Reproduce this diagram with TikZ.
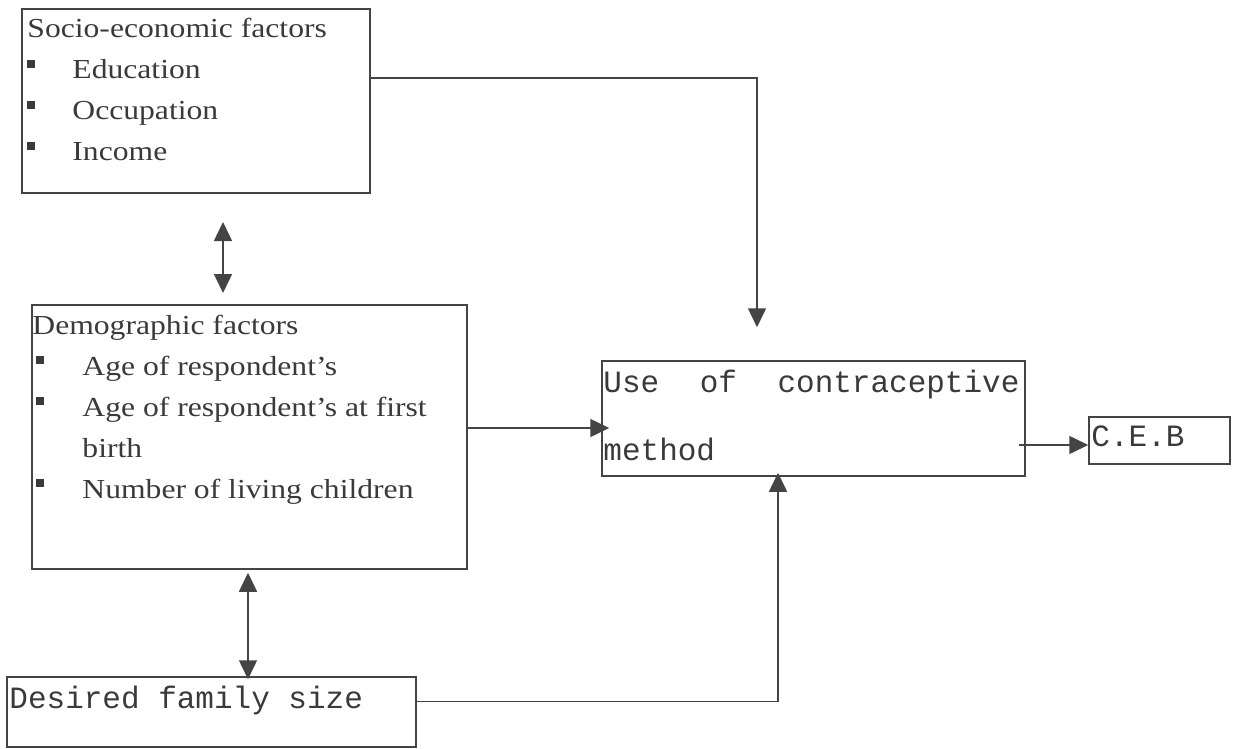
\documentclass[tikz,border=0pt]{standalone}
\usepackage{fontspec}
\setmainfont{Liberation Serif}[FakeStretch=1.15]
\setmonofont{Liberation Mono}
\usetikzlibrary{arrows.meta,positioning}

\definecolor{inkgray}{HTML}{3A3A3A}
\definecolor{linegray}{HTML}{444444}

% square bullet: shift, then width of the bullet column
\newcommand{\sqbullet}[2]{\hspace*{#1}\makebox[#2][l]{\rule[11pt]{8pt}{8pt}}}

\begin{document}
\begin{tikzpicture}[
    x=1pt, y=-1pt,
    >={Triangle[length=19pt,width=18pt]},
    frame/.style={
        draw=linegray,
        line width=1.5pt,
        inner sep=0pt
    },
    textline/.style={
        inner sep=0pt,
        text=inkgray,
        align=left,
        font=\fontsize{27.5}{41}\selectfont
    },
    codeline/.style={
        inner sep=0pt,
        text=inkgray,
        align=left,
        font=\ttfamily\fontsize{31}{68}\selectfont
    },
    message/.style={
        ->,
        draw=linegray,
        line width=1.5pt
    },
    both/.style={
        <->,
        draw=linegray,
        line width=1.5pt
    }
]

\useasboundingbox (0,0) rectangle (1237,749);

% ==================================================
% Boxes
% ==================================================

\node[frame, minimum width=348pt, minimum height=184pt] (socio) at (196,101) {};
\node[frame, minimum width=435pt, minimum height=264pt] (demo) at (249.5,437) {};
\node[frame, minimum width=423pt, minimum height=115pt] (use) at (813.5,418.5) {};
\node[frame, minimum width=141pt, minimum height=47pt] (ceb) at (1159.5,440.5) {};
\node[frame, minimum width=409pt, minimum height=70pt] (desired) at (211.5,712) {};

% ==================================================
% Texts
% ==================================================

\node[textline, anchor=north west] (sociotext)
    at ([xshift=6pt, yshift=-10pt]socio.north west)
    {Socio-economic factors\\
     \sqbullet{0pt}{45pt}Education\\
     \sqbullet{0pt}{45pt}Occupation\\
     \sqbullet{0pt}{45pt}Income};

\node[textline, anchor=north west] (demotext)
    at ([xshift=1pt, yshift=-10.5pt]demo.north west)
    {Demographic factors\\
     \sqbullet{4pt}{46pt}Age of respondent’s\\
     \sqbullet{4pt}{46pt}Age of respondent’s at first\\
     \hspace*{50pt}birth\\
     \sqbullet{4pt}{46pt}Number of living children};

\node[codeline, anchor=north west, text width=416pt] (usetext)
    at ([xshift=2pt, yshift=-10pt]use.north west)
    {Use\hfill of\hfill contraceptive\\method};

\node[codeline, anchor=north west] (cebtext)
    at ([xshift=3pt, yshift=-9.5pt]ceb.north west)
    {C.E.B};

\node[codeline, anchor=north west] (desiredtext)
    at ([xshift=3pt, yshift=-10pt]desired.north west)
    {Desired family size};

% ==================================================
% Connectors
% ==================================================

% socio-economic factors down to the use of contraception
\draw[message] ([yshift=-70pt]socio.north east)
    -| ([xshift=-56.5pt, yshift=33pt]use.north);

% socio-economic <-> demographic
\coordinate (linkTop) at (223,222);
\coordinate (linkBot) at (223,293);
\draw[both] (linkTop) -- (linkBot);

% demographic factors into the use box
\path ([yshift=9pt]demo.east) coordinate (demoOut);
\draw[message] (demoOut) -- ([xshift=8pt]demoOut -| use.west);

% use of contraception to C.E.B
\path ([yshift=-4.5pt]ceb.west) coordinate (cebIn);
\draw[message] ([xshift=-7pt]use.east |- cebIn) -- (cebIn);

% demographic <-> desired family size
\draw[both] ([xshift=-1.5pt, yshift=-3pt]demo.south)
    -- ([xshift=-1.5pt, yshift=-3pt]demo.south |- desired.north);

% desired family size up to the use box
\draw[message] ([yshift=10.5pt]desired.east)
    -| ([xshift=-35.5pt, yshift=4pt]use.south);

\end{tikzpicture}
\end{document}
